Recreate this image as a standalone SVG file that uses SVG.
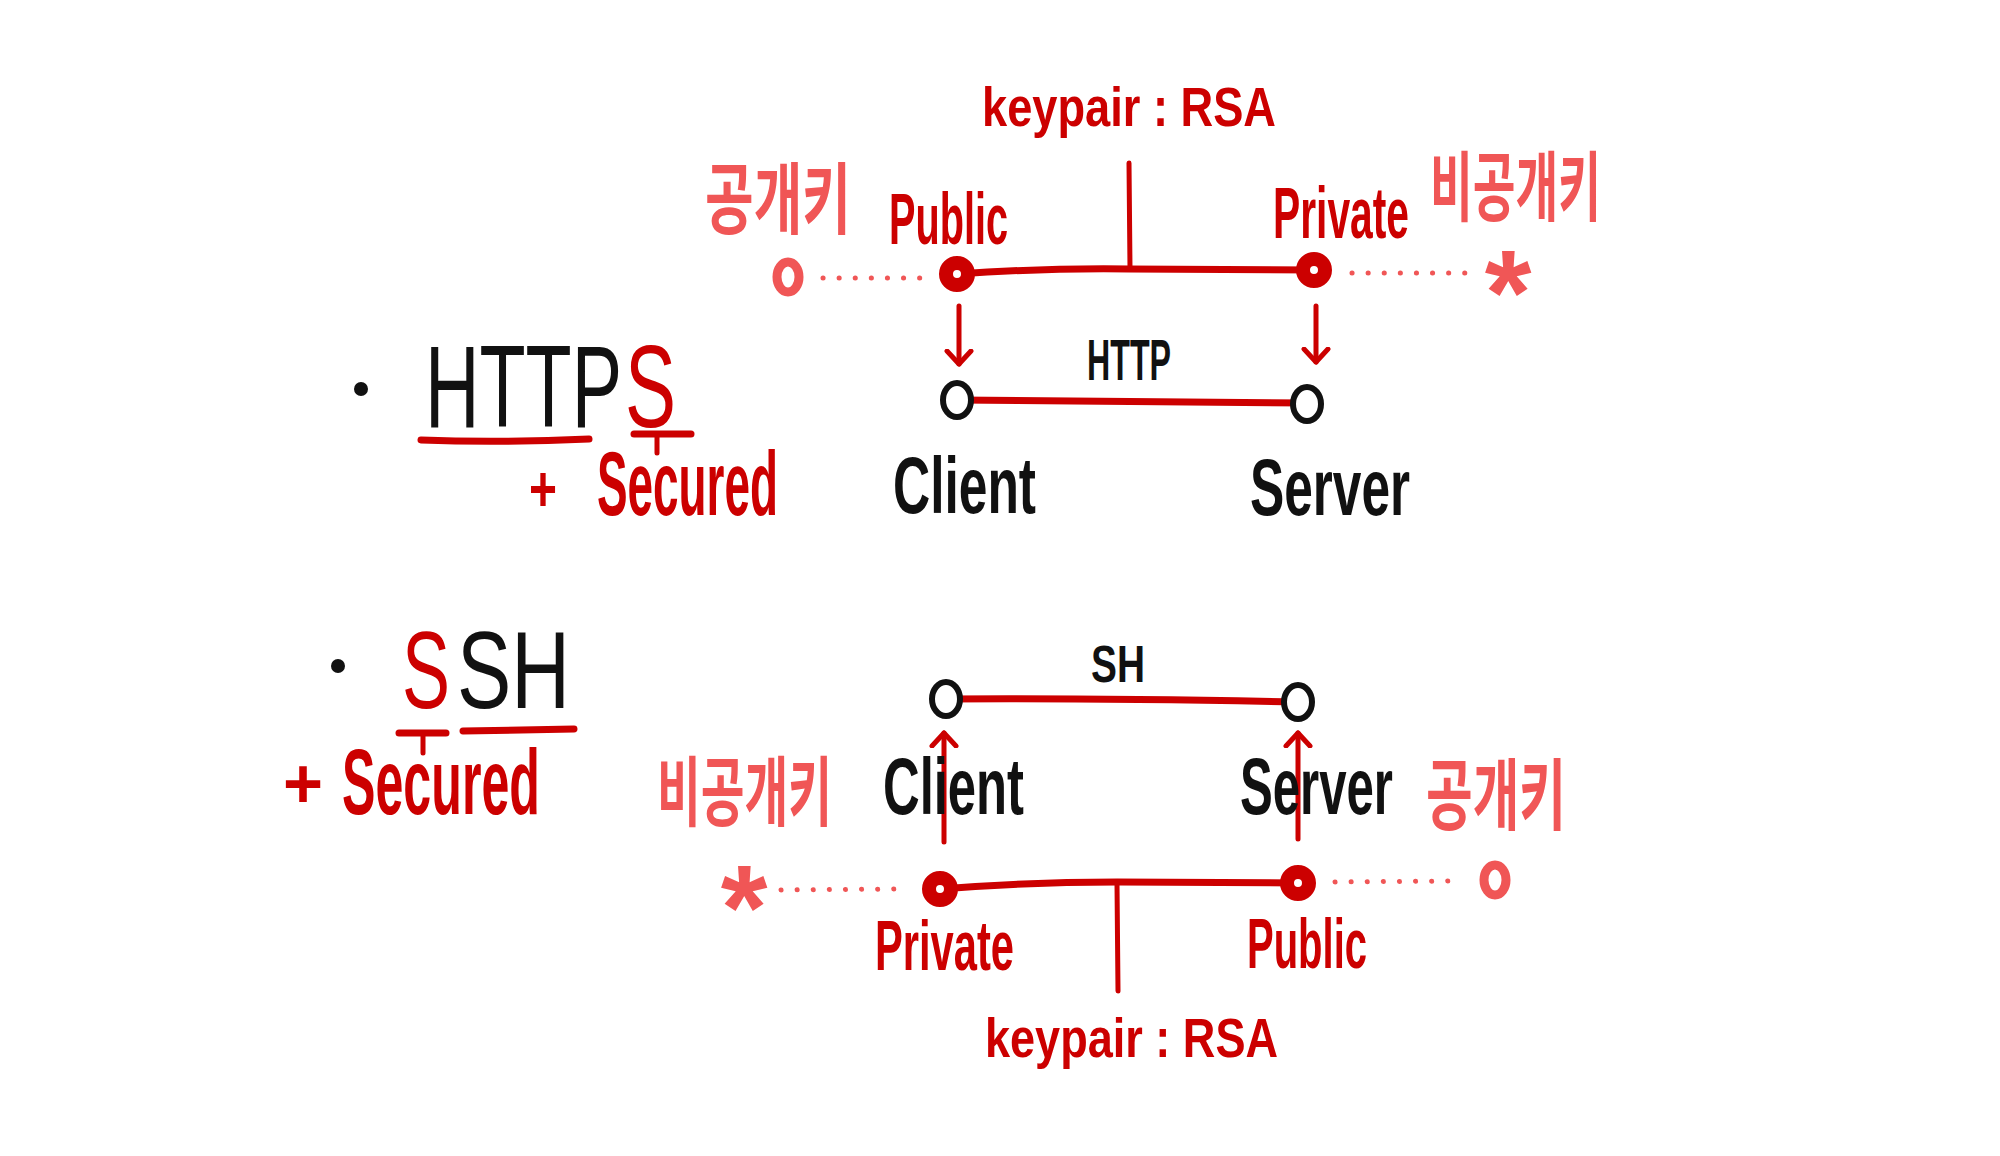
<svg xmlns="http://www.w3.org/2000/svg" width="2000" height="1156" viewBox="0 0 2000 1156">
<style>
.r{fill:#cc0000}
.lr{fill:#f05656}
.k{fill:#111}
.hw{font-family:"Liberation Sans Narrow","Liberation Sans","DejaVu Sans Condensed",sans-serif;font-weight:bold}
.big{font-family:"Liberation Sans","DejaVu Sans",sans-serif;font-weight:normal}
.ko{font-family:"Noto Sans CJK KR","Noto Sans",sans-serif;font-weight:bold}
.ln{stroke:#cc0000;stroke-width:7;fill:none;stroke-linecap:round}
.thin{stroke:#cc0000;stroke-width:5;fill:none;stroke-linecap:round}
.dots{stroke:#f05656;stroke-width:5;fill:none;stroke-linecap:round;stroke-dasharray:0.1 16}
.key{fill:#fff;stroke:#cc0000;stroke-width:14}
.cn{fill:#fff;stroke:#111;stroke-width:6}
.lo{fill:none;stroke:#f05656;stroke-width:9}
</style>
<defs>
<marker id="ah" viewBox="0 0 30 30" refX="15" refY="15" markerWidth="30" markerHeight="30" markerUnits="userSpaceOnUse" orient="auto">
<path d="M2,3 L15,15 L2,27" fill="none" stroke="#cc0000" stroke-width="5" stroke-linecap="round" stroke-linejoin="round"/>
</marker>
</defs>
<rect width="2000" height="1156" fill="#fff"/>

<g id="connectors">
<!-- HTTPS -->
<path class="ln" d="M957,274 Q1040,268 1129,269 L1314,270"/>
<path class="thin" d="M1129,163 L1130,268"/>
<path class="thin" d="M959,306 L959,364" marker-end="url(#ah)"/>
<path class="thin" d="M1316,306 L1316,362" marker-end="url(#ah)"/>
<path class="ln" d="M957,400 Q1100,402 1307,403"/>
<path class="dots" d="M823,278 L925,278"/>
<path class="dots" d="M1352,273 L1467,273"/>
<!-- SSH -->
<path class="ln" d="M946,699 Q1100,698 1298,702"/>
<path class="thin" d="M944,842 L944,733" marker-end="url(#ah)"/>
<path class="thin" d="M1298,839 L1298,733" marker-end="url(#ah)"/>
<path class="ln" d="M940,889 Q1030,882 1117,882 L1298,883"/>
<path class="thin" d="M1117,884 L1118,991"/>
<path class="dots" d="M781,890 L899,889"/>
<path class="dots" d="M1335,882 L1454,881"/>
<!-- underlines -->
<path class="ln" d="M421,440 Q500,443 589,439"/>
<path class="ln" d="M634,434 L691,434"/>
<path class="thin" d="M657,436 L657,453"/>
<path class="ln" d="M399,733 L446,733"/>
<path class="thin" d="M423,735 L423,753"/>
<path class="ln" d="M463,731 L574,729"/>
</g>

<g id="https-title">
<circle cx="361" cy="389" r="7" class="k"/>
<text x="425" y="427" class="big k" font-size="116" textLength="197" lengthAdjust="spacingAndGlyphs">HTTP</text>
<text x="625" y="427" class="big r" font-size="116" textLength="51" lengthAdjust="spacingAndGlyphs">S</text>
<text x="529" y="511" class="hw r" font-size="64" textLength="28" lengthAdjust="spacingAndGlyphs">+</text>
<text x="597" y="515" class="hw r" font-size="90" textLength="181" lengthAdjust="spacingAndGlyphs">Secured</text>
</g>

<g id="https-keypair">
<text x="982" y="126" class="hw r" font-size="56" textLength="294" lengthAdjust="spacingAndGlyphs">keypair : RSA</text>
</g>
<g id="https-public">
<circle cx="957" cy="274" r="11" class="key"/>
<text x="889" y="244" class="hw r" font-size="72" textLength="119" lengthAdjust="spacingAndGlyphs">Public</text>
</g>
<g id="https-private">
<circle cx="1314" cy="270" r="11" class="key"/>
<text x="1273" y="238" class="hw r" font-size="72" textLength="136" lengthAdjust="spacingAndGlyphs">Private</text>
</g>
<g id="https-pubkey-symbol">
<ellipse cx="788" cy="277" rx="11" ry="15" class="lo"/>
<text x="705" y="228" class="ko lr" font-size="78" textLength="146" lengthAdjust="spacingAndGlyphs">공개키</text>
</g>
<g id="https-privkey-symbol">
<text x="1508" y="334" class="hw lr" font-size="120" text-anchor="middle">*</text>
<text x="1430" y="215" class="ko lr" font-size="76" textLength="171" lengthAdjust="spacingAndGlyphs">비공개키</text>
</g>
<g id="https-client">
<ellipse cx="957" cy="400" rx="14" ry="17" class="cn"/>
<text x="893" y="513" class="hw k" font-size="80" textLength="143" lengthAdjust="spacingAndGlyphs">Client</text>
</g>
<g id="https-server">
<ellipse cx="1307" cy="404" rx="14" ry="17" class="cn"/>
<text x="1250" y="515" class="hw k" font-size="80" textLength="160" lengthAdjust="spacingAndGlyphs">Server</text>
</g>
<g id="https-link-label">
<text x="1087" y="380" class="hw k" font-size="58" textLength="84" lengthAdjust="spacingAndGlyphs">HTTP</text>
</g>

<g id="ssh-title">
<circle cx="338" cy="666" r="7" class="k"/>
<text x="402" y="708" class="big r" font-size="110" textLength="48" lengthAdjust="spacingAndGlyphs">S</text>
<text x="457" y="708" class="big k" font-size="110" textLength="113" lengthAdjust="spacingAndGlyphs">SH</text>
<text x="283" y="808" class="hw r" font-size="70" textLength="40" lengthAdjust="spacingAndGlyphs">+</text>
<text x="342" y="814" class="hw r" font-size="92" textLength="198" lengthAdjust="spacingAndGlyphs">Secured</text>
</g>
<g id="ssh-client">
<ellipse cx="946" cy="699" rx="14" ry="17" class="cn"/>
<text x="883" y="814" class="hw k" font-size="80" textLength="141" lengthAdjust="spacingAndGlyphs">Client</text>
</g>
<g id="ssh-server">
<ellipse cx="1298" cy="702" rx="14" ry="17" class="cn"/>
<text x="1240" y="814" class="hw k" font-size="80" textLength="153" lengthAdjust="spacingAndGlyphs">Server</text>
</g>
<g id="ssh-link-label">
<text x="1091" y="682" class="hw k" font-size="52" textLength="54" lengthAdjust="spacingAndGlyphs">SH</text>
</g>
<g id="ssh-private">
<circle cx="940" cy="889" r="11" class="key"/>
<text x="875" y="970" class="hw r" font-size="70" textLength="139" lengthAdjust="spacingAndGlyphs">Private</text>
</g>
<g id="ssh-public">
<circle cx="1298" cy="883" r="11" class="key"/>
<text x="1247" y="968" class="hw r" font-size="70" textLength="120" lengthAdjust="spacingAndGlyphs">Public</text>
</g>
<g id="ssh-privkey-symbol">
<text x="744" y="949" class="hw lr" font-size="120" text-anchor="middle">*</text>
<text x="657" y="820" class="ko lr" font-size="76" textLength="175" lengthAdjust="spacingAndGlyphs">비공개키</text>
</g>
<g id="ssh-pubkey-symbol">
<ellipse cx="1495" cy="880" rx="11" ry="15" class="lo"/>
<text x="1426" y="824" class="ko lr" font-size="78" textLength="140" lengthAdjust="spacingAndGlyphs">공개키</text>
</g>
<g id="ssh-keypair">
<text x="985" y="1057" class="hw r" font-size="56" textLength="293" lengthAdjust="spacingAndGlyphs">keypair : RSA</text>
</g>
</svg>
